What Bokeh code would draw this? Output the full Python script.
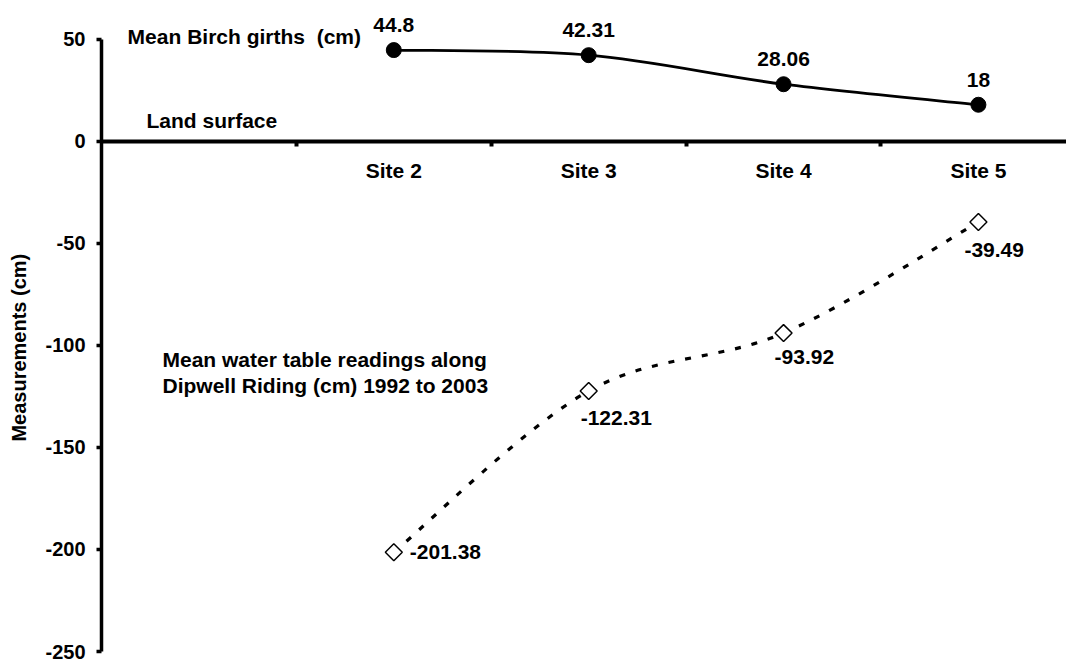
import numpy as np
from bokeh.plotting import figure
from bokeh.models import Range1d, LinearAxis, FixedTicker, Label, ColumnDataSource
from bokeh.core.properties import value
from bokeh.embed import file_html
from bokeh.resources import INLINE

# ---- data ----
categories = ["", "Site 2", "Site 3", "Site 4", "Site 5"]
sites = ["Site 2", "Site 3", "Site 4", "Site 5"]
birch_girth = [44.8, 42.31, 28.06, 18]
water_table = [-201.38, -122.31, -93.92, -39.49]
y_ticks = [-250, -200, -150, -100, -50, 0, 50]

# ---- styles ----
FONT = "Liberation Sans"
FS = "21px"
NB = "\u00a0"
water_label_dx = [16, -8, -9, -14]
water_label_dy = [0, 27, 24, 28]

cat_x = {c: i + 0.5 for i, c in enumerate(categories)}
xs = [cat_x[s] for s in sites]

p = figure(width=1066, height=662,
           x_range=Range1d(0, 4.952), y_range=Range1d(-250, 64.2),
           output_backend="svg", toolbar_location=None,
           x_axis_location=None,
           min_border_left=101, min_border_right=0,
           min_border_top=10, min_border_bottom=11)
p.grid.visible = False
p.outline_line_color = None
p.background_fill_color = "white"
p.border_fill_color = "white"

# y axis
ya = p.yaxis[0]
ya.ticker = FixedTicker(ticks=y_ticks)
ya.major_label_overrides = {v: str(v) for v in y_ticks}
ya.bounds = (-250, 50)
ya.axis_line_width = 3.5
ya.axis_line_color = "black"
ya.major_tick_line_width = 3.5
ya.major_tick_out = 5
ya.major_tick_in = 0
ya.minor_tick_line_color = None
ya.major_label_text_font = FONT
ya.major_label_text_font_style = "bold"
ya.major_label_text_font_size = "20px"
ya.major_label_text_color = "black"
ya.major_label_standoff = 11
ya.axis_label = "Measurements (cm)" + NB * 6
ya.axis_label_text_font = FONT
ya.axis_label_text_font_style = "bold"
ya.axis_label_text_font_size = "20px"
ya.axis_label_text_color = "black"
ya.axis_label_standoff = 12

# x axis line at y = 0 with boundary ticks
ax1 = LinearAxis(fixed_location=0, ticker=FixedTicker(ticks=[1, 2, 3, 4]))
ax1.axis_line_width = 4
ax1.axis_line_color = "black"
ax1.major_tick_line_width = 4
ax1.major_tick_out = 5
ax1.major_tick_in = 0
ax1.minor_tick_line_color = None
ax1.major_label_text_alpha = 0
p.add_layout(ax1, "below")

# category labels centred in slots
ax2 = LinearAxis(fixed_location=0, ticker=FixedTicker(ticks=xs),
                 major_label_overrides={x: s for x, s in zip(xs, sites)})
ax2.axis_line_color = None
ax2.major_tick_line_color = None
ax2.minor_tick_line_color = None
ax2.major_label_text_font = FONT
ax2.major_label_text_font_style = "bold"
ax2.major_label_text_font_size = FS
ax2.major_label_text_color = "black"
ax2.major_label_standoff = 12
p.add_layout(ax2, "below")


def smooth(xv, yv):
    n = len(xv)
    P = [np.array([a, b], dtype=float) for a, b in zip(xv, yv)]
    out = {k: [] for k in ["x0", "y0", "x1", "y1", "cx0", "cy0", "cx1", "cy1"]}
    for i in range(n - 1):
        p0 = P[max(i - 1, 0)]
        p1 = P[i]
        p2 = P[i + 1]
        p3 = P[min(i + 2, n - 1)]
        c1 = p1 + (p2 - p0) / 6.0
        c2 = p2 - (p3 - p1) / 6.0
        out["x0"].append(p1[0]); out["y0"].append(p1[1])
        out["x1"].append(p2[0]); out["y1"].append(p2[1])
        out["cx0"].append(c1[0]); out["cy0"].append(c1[1])
        out["cx1"].append(c2[0]); out["cy1"].append(c2[1])
    return ColumnDataSource(out)


bsrc = smooth(xs, birch_girth)
p.bezier("x0", "y0", "x1", "y1", "cx0", "cy0", "cx1", "cy1", source=bsrc,
         line_color="black", line_width=2.8)
wsrc = smooth(xs, water_table)
p.bezier("x0", "y0", "x1", "y1", "cx0", "cy0", "cx1", "cy1", source=wsrc,
         line_color="black", line_width=3.2, line_dash="6 11")

p.scatter(xs, birch_girth, marker="circle", size=15,
          fill_color="black", line_color="black")
p.scatter(xs, water_table, marker="square", angle=np.pi / 4, size=12,
          fill_color="white", line_color="black", line_width=1.5)

# data labels
p.text(xs, birch_girth, text=[f"{v:g}" for v in birch_girth],
       y_offset=-25, text_align="center", text_baseline="middle",
       text_font=value(FONT), text_font_size=FS,
       text_font_style="bold", text_color="black")
p.text(xs, water_table, text=[f"{v:g}" for v in water_table],
       x_offset=water_label_dx, y_offset=water_label_dy,
       text_align="left", text_baseline="middle",
       text_font=value(FONT), text_font_size=FS,
       text_font_style="bold", text_color="black")


# annotations
def lab(x, y, t):
    p.add_layout(Label(x=x, y=y, text=t,
                       text_font=FONT, text_font_style="bold",
                       text_font_size=FS, text_color="black",
                       text_align="left", text_baseline="middle"))


lab(0.134, 51.5, "Mean Birch girths" + NB + NB + "(cm)")
lab(0.231, 10.3, "Land surface")
lab(0.313, -106.9, "Mean water table readings along")
lab(0.313, -119.6, "Dipwell Riding (cm) 1992 to 2003")

html = file_html(p, INLINE)
open("out.html", "w").write(html)
